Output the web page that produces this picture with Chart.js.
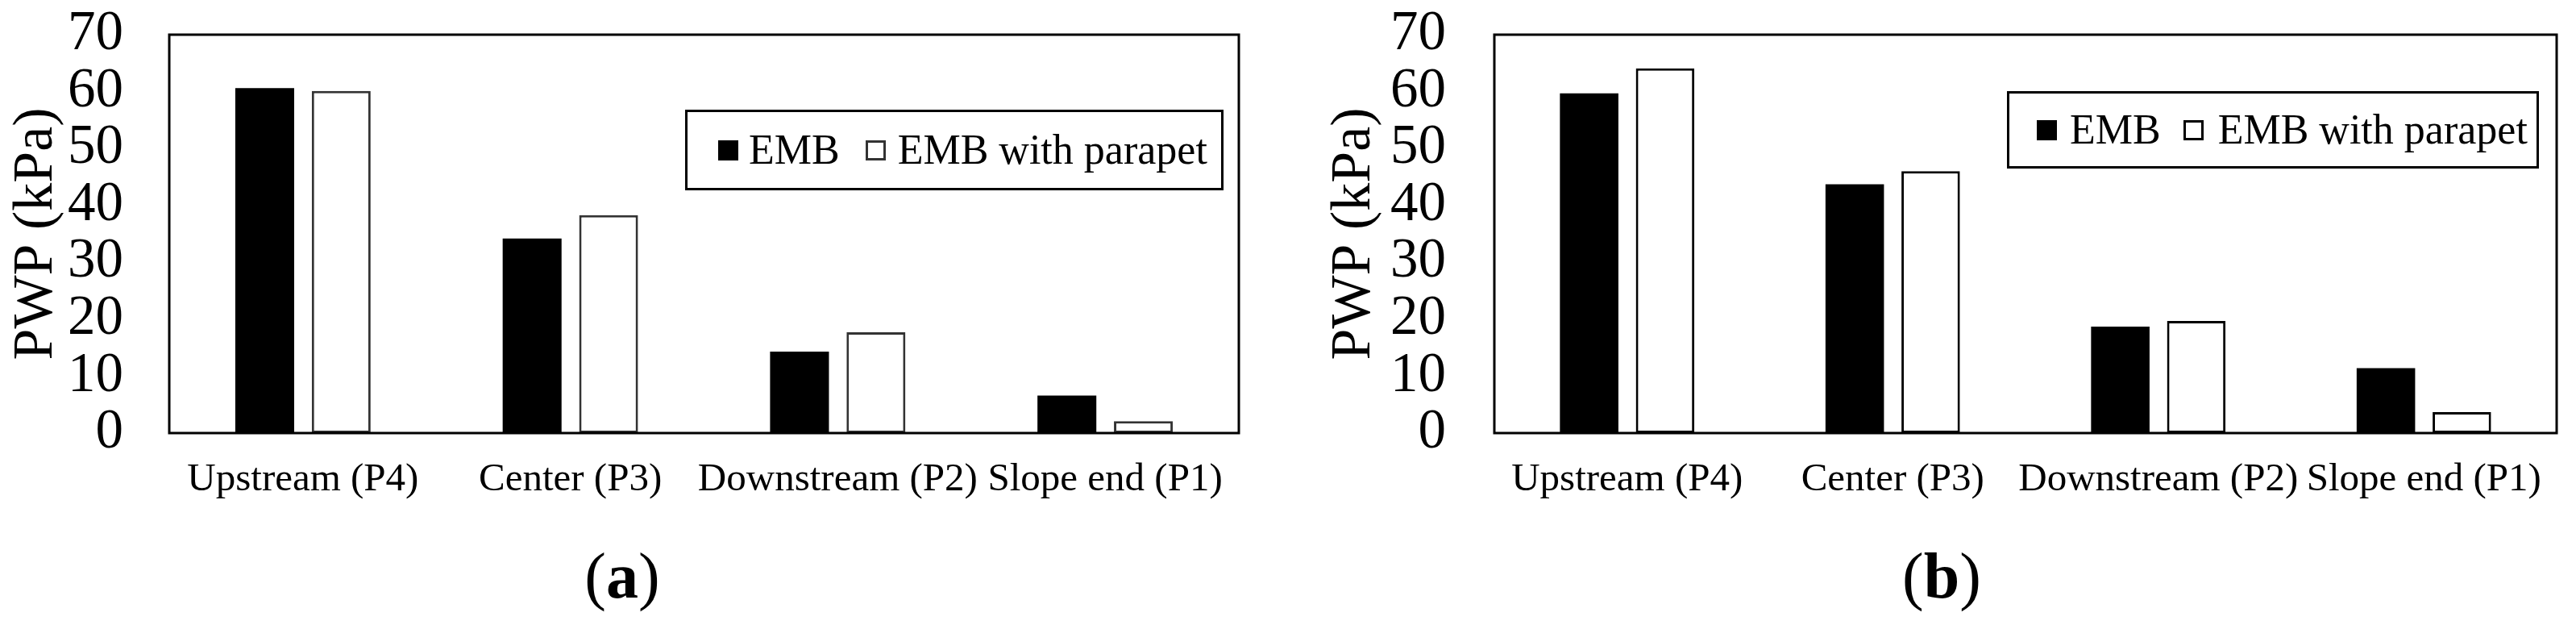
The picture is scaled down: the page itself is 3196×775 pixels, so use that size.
<!DOCTYPE html>
<html>
<head>
<meta charset="utf-8">
<script src="https://cdn.jsdelivr.net/npm/chart.js@4.4.1/dist/chart.umd.min.js"></script>
<style>
    body { margin: 0; background: #fff; width: 3196px; height: 775px; position: relative; overflow: hidden; font-family: "Liberation Serif", "Times New Roman", serif; color: #000; }
    .panel { position: absolute; top: 0; width: 1598px; height: 775px; }
    .legend { position: absolute; box-sizing: border-box; border: 3px solid #000; display: flex; align-items: center; font-size: 52px; line-height: 1; background: #fff; }
    .swatch { width: 25px; height: 25px; box-sizing: border-box; flex: none; }
    .tag { position: absolute; font-size: 80px; line-height: 1; transform: translate(-50%, -50%); margin-top: -6px; white-space: nowrap; }
</style>
</head>
<body>

<div class="panel" style="left:0"><canvas id="chart_a" width="1598" height="775"></canvas></div>
<div class="panel" style="left:1598px"><canvas id="chart_b" width="1598" height="775"></canvas></div>

<div class="legend" style="left:850px; top:136px; width:668px; height:100px; padding-left:38px;">
    <div class="swatch" style="background:#000"></div>
    <span style="margin-left:13px">EMB</span>
    <div class="swatch" style="border:3px solid #333; margin-left:32px"></div>
    <span style="margin-left:15px">EMB with parapet</span>
</div>
<div class="legend" style="left:2490px; top:113px; width:660px; height:96px; padding-left:34px;">
    <div class="swatch" style="background:#000"></div>
    <span style="margin-left:16px">EMB</span>
    <div class="swatch" style="border:3px solid #000; margin-left:28px"></div>
    <span style="margin-left:18px">EMB with parapet</span>
</div>

<div class="tag" style="left:772px; top:720px">(<b>a</b>)</div>
<div class="tag" style="left:2409px; top:720px">(<b>b</b>)</div>

<script>
const categories = ['Upstream (P4)', 'Center (P3)', 'Downstream (P2)', 'Slope end (P1)'];

// (a)
const embA = [60.6, 34.2, 14.3, 6.6];
const parapetA = [60.1, 38.3, 17.7, 2.1];

// (b)
const embB = [59.7, 43.7, 18.7, 11.4];
const parapetB = [64.1, 46.0, 19.7, 3.7];

const yMin = 0;
const yMax = 70;
const yStep = 10;

// draws the frame round the plot area
const frameBox = {
    id: 'frameBox',
    afterDraw(chart) {
        const { ctx, chartArea } = chart;
        ctx.save();
        ctx.strokeStyle = '#000';
        ctx.lineWidth = 3;
        ctx.strokeRect(chartArea.left, chartArea.top, chartArea.right - chartArea.left, chartArea.bottom - chartArea.top);
        ctx.restore();
    }
};

function makeChart(canvasId, emb, parapet, opts) {
    const ctx = document.getElementById(canvasId).getContext('2d');
    return new Chart(ctx, {
        type: 'bar',
        data: {
            labels: categories,
            datasets: [{
                label: 'EMB',
                data: emb,
                backgroundColor: '#000',
                borderWidth: 0
            }, {
                label: 'EMB with parapet',
                data: parapet,
                backgroundColor: '#fff',
                borderColor: opts.edge,
                borderWidth: 3,
                borderSkipped: false
            }]
        },
        options: {
            responsive: false,
            animation: false,
            categoryPercentage: 0.572,
            barPercentage: 0.77,
            layout: {
                padding: { left: opts.padLeft, right: opts.padRight, top: 43, bottom: 138 }
            },
            plugins: {
                legend: { display: false },
                tooltip: { enabled: false }
            },
            scales: {
                x: {
                    // invisible tick marks give the gap under the axis
                    grid: { display: false, drawTicks: true, tickLength: 29 },
                    border: { display: false },
                    ticks: {
                        color: '#000',
                        padding: 0,
                        maxRotation: 0,
                        autoSkip: false,
                        font: { family: 'Liberation Serif', size: 49, lineHeight: 1.2 }
                    },
                    afterFit(scale) { scale.height = 100; }
                },
                y: {
                    min: yMin,
                    max: yMax,
                    grid: { display: false, drawTicks: true, tickLength: opts.tickPad },
                    border: { display: false },
                    ticks: {
                        stepSize: yStep,
                        autoSkip: false,
                        color: '#000',
                        padding: 0,
                        font: { family: 'Liberation Serif', size: 69, lineHeight: 1 }
                    },
                    title: {
                        display: true,
                        text: 'PWP (kPa)',
                        color: '#000',
                        padding: 0,
                        font: { family: 'Liberation Serif', size: 70, lineHeight: 1 }
                    },
                    afterFit(scale) { scale.width = opts.axisWidth; }
                }
            }
        },
        plugins: [frameBox]
    });
}

makeChart('chart_a', embA, parapetA, { padLeft: 11, padRight: 61, axisWidth: 199, tickPad: 57, edge: '#333' });
makeChart('chart_b', embB, parapetB, { padLeft: 48, padRight: 24, axisWidth: 208, tickPad: 60, edge: '#000' });
</script>
</body>
</html>
